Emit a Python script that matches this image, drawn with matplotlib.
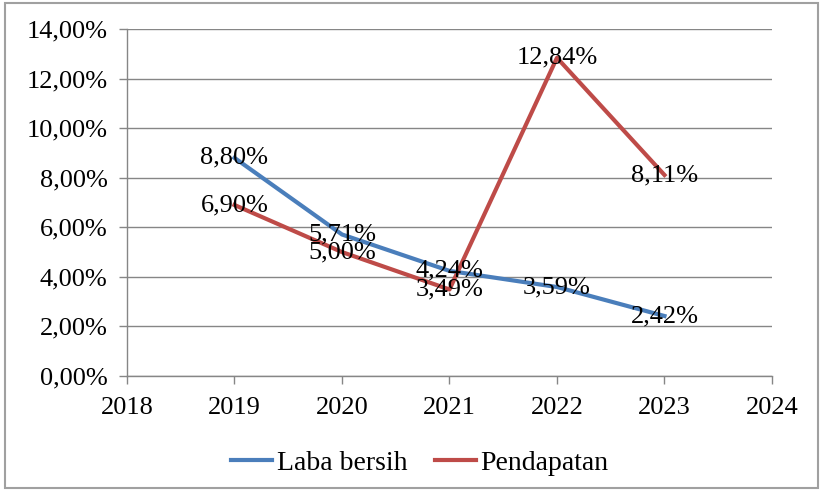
import matplotlib
matplotlib.use('Agg')
import matplotlib.pyplot as plt
from matplotlib.patches import Rectangle

years = [2019, 2020, 2021, 2022, 2023]
laba_bersih = [8.80, 5.71, 4.24, 3.59, 2.42]
pendapatan = [6.90, 5.00, 3.49, 12.84, 8.11]
y_ticks = [0, 2, 4, 6, 8, 10, 12, 14]
x_ticks = [2018, 2019, 2020, 2021, 2022, 2023, 2024]

plt.rcParams['font.family'] = ['Liberation Serif', 'DejaVu Serif']
plt.rcParams['font.size'] = 19

GRAY = '#868686'


def pct(v):
    return f'{v:.2f}'.replace('.', ',') + '%'


fig = plt.figure(figsize=(8.23, 4.92), dpi=100)
ax = fig.add_axes([0.1543, 0.2358, 0.938 - 0.1543, 0.941 - 0.2358])

ax.plot(years, laba_bersih, color='#4A7EBB', lw=3, label='Laba bersih', zorder=3)
ax.plot(years, pendapatan, color='#BE4B48', lw=3, label='Pendapatan', zorder=3)

for x, y in zip(years, laba_bersih):
    ax.text(x, y, pct(y), ha='center', va='center', fontsize=19, zorder=4)
for x, y in zip(years, pendapatan):
    ax.text(x, y, pct(y), ha='center', va='center', fontsize=19, zorder=4)

ax.set_xlim(2018, 2024)
ax.set_ylim(0, 14)
ax.set_xticks(x_ticks)
ax.set_yticks(y_ticks)
ax.set_yticklabels([pct(v) for v in y_ticks])
ax.grid(axis='y', color=GRAY, lw=1)
ax.set_axisbelow(True)
for s in ['top', 'right']:
    ax.spines[s].set_visible(False)
for s in ['left', 'bottom']:
    ax.spines[s].set_color(GRAY)
    ax.spines[s].set_linewidth(1)
ax.tick_params(axis='both', color=GRAY, length=6, width=1, labelsize=19)
ax.tick_params(axis='y', pad=8)
ax.tick_params(axis='x', pad=9)

fig.legend(loc='lower center', bbox_to_anchor=(0.51, -0.018), ncol=2, frameon=False,
           fontsize=20, handlelength=1.5, handletextpad=0.15, columnspacing=1.0)

fig.patches.append(Rectangle((0.006, 0.008), 0.988, 0.986, transform=fig.transFigure,
                             fill=False, edgecolor='#A0A0A0', lw=1.5))

fig.savefig('out.png', dpi=100)
